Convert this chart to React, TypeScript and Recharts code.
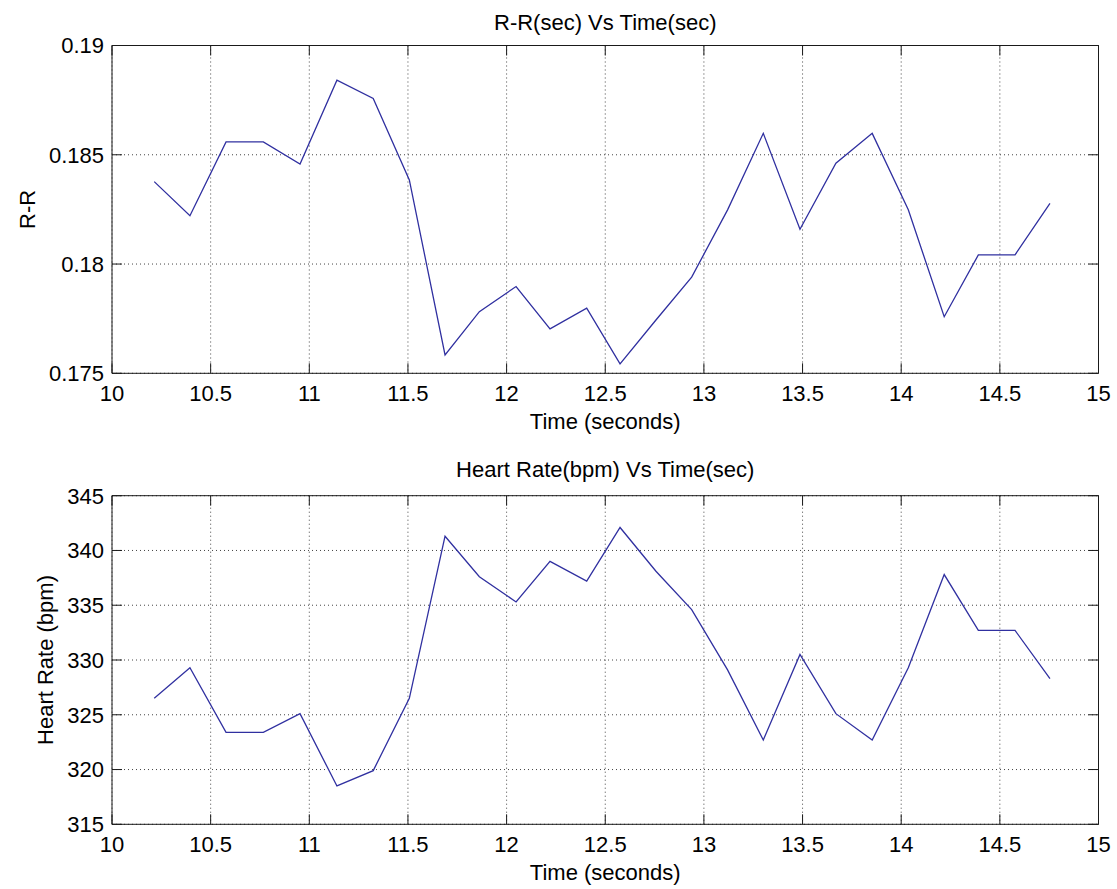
import React from 'react';
import { LineChart, Line, XAxis, YAxis, CartesianGrid, ReferenceLine } from 'recharts';

const timeSec = [
  10.214, 10.395, 10.578, 10.767, 10.953, 11.14, 11.324, 11.507, 11.688, 11.862,
  12.048, 12.22, 12.406, 12.575, 12.757, 12.938, 13.12, 13.301, 13.487, 13.669,
  13.853, 14.036, 14.218, 14.391, 14.577, 14.754,
];
const rrSec = [
  0.18377, 0.18221, 0.18559, 0.18559, 0.18458, 0.18841, 0.18758, 0.18385, 0.17584, 0.17782,
  0.17897, 0.17703, 0.17798, 0.17543, 0.17744, 0.1794, 0.18248, 0.18598, 0.18159, 0.18461,
  0.18598, 0.18248, 0.17759, 0.18042, 0.18042, 0.18278,
];
const heartRateBpm = [
  326.5, 329.3, 323.4, 323.4, 325.1, 318.5, 319.9, 326.5, 341.3, 337.6,
  335.3, 339.0, 337.2, 342.1, 338.1, 334.6, 329.1, 322.7, 330.5, 325.1,
  322.7, 329.3, 337.8, 332.7, 332.7, 328.3,
];
const timeTicks = [10, 10.5, 11, 11.5, 12, 12.5, 13, 13.5, 14, 14.5, 15];
const rrTicks = [0.175, 0.18, 0.185, 0.19];
const hrTicks = [315, 320, 325, 330, 335, 340, 345];

const rrData = timeSec.map((t, i) => ({ t, v: rrSec[i] }));
const hrData = timeSec.map((t, i) => ({ t, v: heartRateBpm[i] }));

const FONT = '"Liberation Sans", Arial, Helvetica, sans-serif';
const AXIS = '#1a1a1a';
const LINE = '#3030a0';
const FS = 22;
const TICK_LEN = 10;
const CHART_W = 1117;
const M_LEFT = 52;
const Y_AXIS_W = 60;
const M_RIGHT = 18.5;
const X_AXIS_H = 60;
const PLOT_W = CHART_W - M_LEFT - Y_AXIS_W - M_RIGHT;

function BottomTick(props: any) {
  const { x, y, payload, plotH } = props;
  const top = y - plotH;
  return (
    <g>
      <line x1={x} x2={x} y1={y} y2={y - TICK_LEN} stroke={AXIS} strokeWidth={1} />
      <line x1={x} x2={x} y1={top} y2={top + TICK_LEN} stroke={AXIS} strokeWidth={1} />
      <text x={x} y={y + 27.5} textAnchor="middle" fill="#000" fontSize={FS} fontFamily={FONT}>
        {String(payload.value)}
      </text>
    </g>
  );
}

function LeftTick(props: any) {
  const { x, y, payload } = props;
  const right = x + PLOT_W;
  return (
    <g>
      <line x1={x} x2={x + TICK_LEN} y1={y} y2={y} stroke={AXIS} strokeWidth={1} />
      <line x1={right} x2={right - TICK_LEN} y1={y} y2={y} stroke={AXIS} strokeWidth={1} />
      <text x={x - 8} y={y + 7.8} textAnchor="end" fill="#000" fontSize={FS} fontFamily={FONT}>
        {String(payload.value)}
      </text>
    </g>
  );
}

function YLabel(props: any) {
  const { viewBox, value, bx } = props;
  const cy = viewBox.y + viewBox.height / 2;
  return (
    <text
      x={bx}
      y={cy}
      transform={`rotate(-90 ${bx} ${cy})`}
      textAnchor="middle"
      fill="#000"
      fontSize={FS}
      fontFamily={FONT}
    >
      {value}
    </text>
  );
}

function TitleLabel(props: any) {
  const { viewBox, value, off } = props;
  const cx = viewBox.x + viewBox.width / 2;
  const by = viewBox.y - off;
  return (
    <text x={cx} y={by} textAnchor="middle" fill="#000" fontSize={FS} fontFamily={FONT}>
      {value}
    </text>
  );
}

function Panel(props: any) {
  const { data, ticks, domain, title, titleOffset, yLabel, yLabelX, height, marginTop, marginBottom } = props;
  const plotH = height - marginTop - marginBottom - X_AXIS_H;
  return (
    <LineChart
      width={CHART_W}
      height={height}
      data={data}
      margin={{ top: marginTop, right: M_RIGHT, bottom: marginBottom, left: M_LEFT }}
    >
      <CartesianGrid stroke="#444" strokeDasharray="1 3" />
      <XAxis
        dataKey="t"
        type="number"
        domain={[10, 15]}
        ticks={timeTicks}
        interval={0}
        height={X_AXIS_H}
        tickSize={0}
        tickMargin={0}
        tickLine={false}
        tick={(p: any) => <BottomTick {...p} plotH={plotH} />}
        stroke={AXIS}
        allowDataOverflow
        label={{ value: 'Time (seconds)', position: 'insideBottom', offset: 4, fill: '#000', fontSize: FS, fontFamily: FONT }}
      />
      <YAxis
        type="number"
        domain={domain}
        ticks={ticks}
        interval={0}
        width={Y_AXIS_W}
        tickSize={0}
        tickMargin={0}
        tickLine={false}
        tick={(p: any) => <LeftTick {...p} />}
        stroke={AXIS}
        allowDataOverflow
        label={<YLabel value={yLabel} bx={yLabelX} />}
      />
      <ReferenceLine
        y={domain[1]}
        stroke={AXIS}
        strokeWidth={1}
        label={<TitleLabel value={title} off={titleOffset} />}
      />
      <ReferenceLine x={15} stroke={AXIS} strokeWidth={1} />
      <Line type="linear" dataKey="v" stroke={LINE} strokeWidth={1.3} dot={false} isAnimationActive={false} />
    </LineChart>
  );
}

export default function App() {
  return (
    <div style={{ position: 'absolute', left: 0, top: 0, width: 1117, height: 889, background: '#fff' }}>
      <div style={{ position: 'absolute', left: 0, top: 0 }}>
        <Panel
          data={rrData}
          ticks={rrTicks}
          domain={[0.175, 0.19]}
          title="R-R(sec) Vs Time(sec)"
          titleOffset={16}
          yLabel="R-R"
          yLabelX={35}
          height={460}
          marginTop={45.5}
          marginBottom={26.7}
        />
      </div>
      <div style={{ position: 'absolute', left: 0, top: 450 }}>
        <Panel
          data={hrData}
          ticks={hrTicks}
          domain={[315, 345]}
          title="Heart Rate(bpm) Vs Time(sec)"
          titleOffset={19}
          yLabel="Heart Rate (bpm)"
          yLabelX={53}
          height={439}
          marginTop={45.7}
          marginBottom={4.7}
        />
      </div>
    </div>
  );
}
